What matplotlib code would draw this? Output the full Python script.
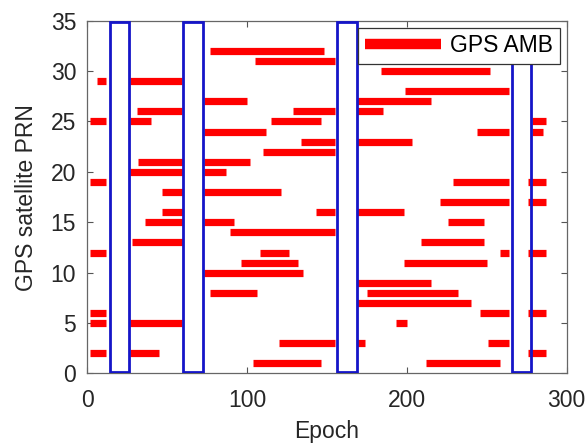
import matplotlib.pyplot as plt
from matplotlib.patches import Rectangle

# ambiguity arcs: satellite PRN, first epoch, last epoch
seg_prn = [32, 31, 30,
           29, 29, 28, 27, 27,
           26, 26, 26,
           25, 25, 25, 25,
           24, 24, 24,
           23, 23, 22, 21, 21, 20, 20,
           19, 19, 19,
           18, 18, 17, 17,
           16, 16, 16,
           15, 15, 15,
           14, 13, 13,
           12, 12, 12, 12,
           11, 11, 10, 9, 8, 8, 7,
           6, 6, 6,
           5, 5, 5,
           3, 3, 3,
           2, 2, 2,
           1, 1]
seg_start = [77, 105, 184,
             6, 27, 199, 73, 169,
             31, 129, 169,
             2, 27, 115, 278,
             73, 244, 278,
             134, 169, 110, 32, 73, 27, 73,
             2, 229, 276,
             47, 73, 221, 276,
             47, 143, 169,
             36, 73, 226,
             89, 28, 209,
             2, 108, 258, 276,
             96, 198, 73, 169, 77, 175, 169,
             2, 246, 276,
             2, 27, 193,
             120, 169, 251,
             2, 27, 276,
             104, 212]
seg_end = [148, 155, 252,
           12, 59, 264, 100, 215,
           59, 155, 185,
           12, 40, 146, 287,
           112, 264, 285,
           155, 203, 155, 60, 102, 60, 87,
           12, 264, 287,
           60, 121, 264, 287,
           60, 155, 198,
           60, 92, 248,
           155, 60, 248,
           12, 126, 264, 287,
           132, 250, 135, 215, 106, 232, 240,
           12, 264, 287,
           12, 59, 200,
           155, 174, 264,
           12, 45, 287,
           146, 258]

# highlighted epoch windows
box_start = [14.2, 60.1, 156.4, 265.6]
box_end = [26.3, 72.6, 168.6, 277.7]
box_top = [34.9, 34.9, 34.9, 30.9]
box_bottom = 0.1

plt.rcParams['font.family'] = ['Liberation Sans', 'DejaVu Sans']
txt = '#262626'

fig = plt.figure(figsize=(5.87, 4.45), dpi=100)
ax = fig.add_axes([0.1487, 0.1607, 0.8167, 0.7928])

for k, (p, a, b) in enumerate(zip(seg_prn, seg_start, seg_end)):
    ax.plot([a, b], [p, p], color='#ff0000', lw=5.2, solid_capstyle='butt',
            label='GPS AMB' if k == 0 else None)

for a, b, t in zip(box_start, box_end, box_top):
    ax.add_patch(Rectangle((a, box_bottom), b - a, t - box_bottom, fill=False,
                           edgecolor='#1515c8', lw=2.0, zorder=3))

ax.set_xlim(0, 300)
ax.set_ylim(0, 35)
ax.set_xticks([0, 100, 200, 300])
ax.set_yticks(range(0, 36, 5))
ax.tick_params(direction='in', top=True, right=True, length=4, width=0.8,
               color='#555555', labelsize=16.5, labelcolor=txt)
ax.tick_params(axis='x', pad=11)
ax.tick_params(axis='y', pad=8)
for s in ax.spines.values():
    s.set_color('#666666')
    s.set_linewidth(0.9)

ax.set_xlabel('Epoch', fontsize=16.5, color=txt, labelpad=6)
ax.set_ylabel('GPS satellite PRN', fontsize=16.5, color=txt, labelpad=9)

leg = ax.legend(loc='upper right', fontsize=16.5, handlelength=3.3,
                handletextpad=0.4, borderaxespad=0.3, borderpad=0.3,
                fancybox=False, framealpha=1, edgecolor='#333333')
leg.get_frame().set_linewidth(0.9)
for line in leg.get_lines():
    line.set_linewidth(7.5)

fig.savefig('out.png', dpi=100)
